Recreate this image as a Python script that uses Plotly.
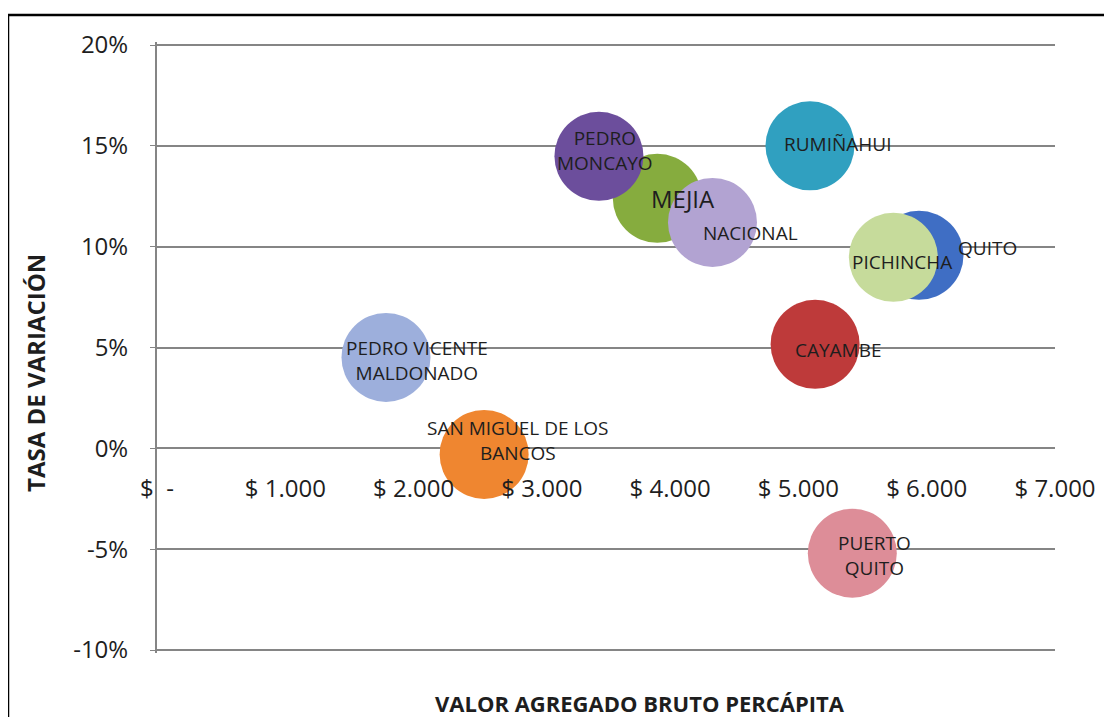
import plotly.graph_objects as go

# ---- data ----
municipios = ["MEJIA", "PEDRO MONCAYO", "NACIONAL", "RUMIÑAHUI", "QUITO", "PICHINCHA",
              "CAYAMBE", "PEDRO VICENTE MALDONADO", "SAN MIGUEL DE LOS BANCOS", "PUERTO QUITO"]
etiquetas = ["MEJIA", "PEDRO<br>MONCAYO", "NACIONAL", "RUMIÑAHUI", "QUITO", "PICHINCHA",
             "CAYAMBE", "PEDRO VICENTE<br>MALDONADO", "SAN MIGUEL DE LOS<br>BANCOS", "PUERTO<br>QUITO"]
vab_percapita = [3900, 3445, 4330, 5090, 5940, 5740, 5130, 1785, 2550, 5420]
tasa_variacion = [0.124, 0.1448, 0.112, 0.150, 0.0957, 0.0947, 0.0516, 0.0451, -0.003, -0.052]

x_tickvals = [0, 1000, 2000, 3000, 4000, 5000, 6000, 7000]
x_ticktext = ["$\u00a0\u00a0-", "$ 1.000", "$ 2.000", "$ 3.000", "$ 4.000", "$ 5.000", "$ 6.000", "$ 7.000"]
y_tickvals = [-0.10, -0.05, 0.0, 0.05, 0.10, 0.15, 0.20]
y_ticktext = ["-10%", "-5%", "0%", "5%", "10%", "15%", "20%"]

# ---- styles ----
colores = {
    "MEJIA": "#86AC3E",
    "PEDRO MONCAYO": "#6C4E9C",
    "NACIONAL": "#B2A3D2",
    "RUMIÑAHUI": "#30A0C0",
    "QUITO": "#3F6EC4",
    "PICHINCHA": "#C6DB9B",
    "CAYAMBE": "#BE3A3A",
    "PEDRO VICENTE MALDONADO": "#9DAFDC",
    "SAN MIGUEL DE LOS BANCOS": "#EF8630",
    "PUERTO QUITO": "#DD8D98",
}
desplaz = {  # label offsets in pixels (xshift, yshift)
    "MEJIA": (26, 0),
    "PEDRO MONCAYO": (6, 6),
    "NACIONAL": (38, -11),
    "RUMIÑAHUI": (28, 2),
    "QUITO": (68, 7),
    "PICHINCHA": (9, -5),
    "CAYAMBE": (23, -6),
    "PEDRO VICENTE MALDONADO": (31, -3),
    "SAN MIGUEL DE LOS BANCOS": (34, 14),
    "PUERTO QUITO": (22, -2),
}
FONT = "Open Sans"
TXT = "#1e1e1e"
GRID = "#858585"

# page body has an 8px margin: figure coords = screen coords - 8
OFF = 8
W, H = 1112 - OFF, 717 - OFF
PAD = 3  # extra px above/below so the edge gridlines are drawn
plot_left, plot_right = 157 - OFF, 1055 - OFF
plot_top, plot_bot = 45 - OFF - PAD, 650 - OFF + PAD
pw, ph = plot_right - plot_left, plot_bot - plot_top
ypad = 0.30 * PAD / 605


def px(xs):
    return (xs - OFF - plot_left) / pw


def py(ys):
    return (plot_bot - (ys - OFF)) / ph


fig = go.Figure()
for nombre, xv, yv in zip(municipios, vab_percapita, tasa_variacion):
    fig.add_trace(go.Scatter(
        x=[xv], y=[yv], mode="markers", name=nombre,
        marker=dict(size=89, color=colores[nombre], opacity=1, line=dict(width=0)),
        cliponaxis=False, showlegend=False,
    ))

annotations = []
for nombre, etq, xv, yv in zip(municipios, etiquetas, vab_percapita, tasa_variacion):
    dx, dy = desplaz[nombre]
    annotations.append(dict(
        x=xv, y=yv, xref="x", yref="y", text=etq, showarrow=False,
        xshift=dx, yshift=dy, align="center",
        font=dict(family=FONT, size=24 if nombre == "MEJIA" else 19, color=TXT),
    ))

# axis titles
annotations.append(dict(
    text="<b>VALOR AGREGADO BRUTO PERCÁPITA</b>", xref="paper", yref="paper",
    x=px(640), y=py(703), showarrow=False,
    font=dict(family=FONT, size=22, color=TXT), xanchor="center", yanchor="middle",
))
annotations.append(dict(
    text="<b>TASA DE VARIACIÓN</b>", xref="paper", yref="paper",
    x=px(35), y=py(373), showarrow=False, textangle=-90,
    font=dict(family=FONT, size=24, color=TXT), xanchor="center", yanchor="middle",
))

fig.update_layout(
    width=W, height=H,
    margin=dict(l=plot_left, r=W - plot_right, t=plot_top, b=H - plot_bot),
    paper_bgcolor="white", plot_bgcolor="white",
    font=dict(family=FONT, color=TXT),
    annotations=annotations,
    shapes=[dict(type="rect", xref="paper", yref="paper",
                 x0=px(8), x1=1.3, y0=-0.3, y1=py(15),
                 line=dict(color="black", width=2.5), fillcolor="rgba(0,0,0,0)", layer="above")],
    xaxis=dict(
        range=[0, 7000], tickvals=x_tickvals, ticktext=x_ticktext,
        showgrid=False, zeroline=False, showline=False, ticks="",
        anchor="free", position=py(472),
        tickfont=dict(family=FONT, size=24, color=TXT),
    ),
    yaxis=dict(
        range=[-0.10 - ypad, 0.20 + ypad], tickvals=y_tickvals, ticktext=y_ticktext,
        showgrid=True, gridcolor=GRID, gridwidth=2,
        zeroline=True, zerolinecolor=GRID, zerolinewidth=2,
        showline=True, linecolor=GRID, linewidth=2,
        ticks="outside", ticklen=5, tickcolor=GRID, tickwidth=1,
        ticklabelstandoff=17,
        tickfont=dict(family=FONT, size=24, color=TXT),
    ),
)

fig.write_html("out.html")
